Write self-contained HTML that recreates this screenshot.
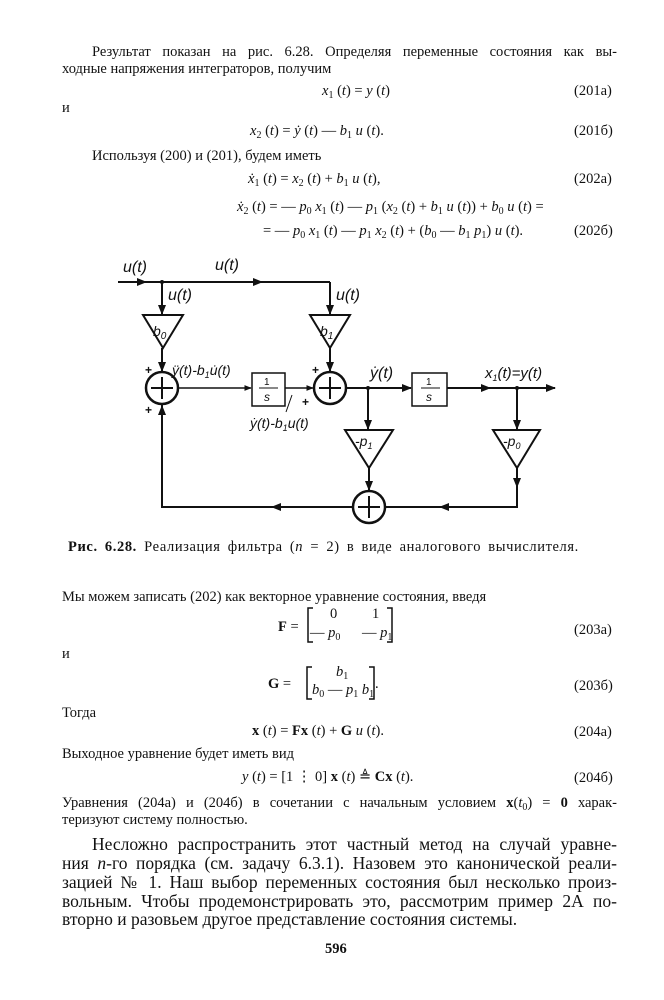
<!DOCTYPE html>
<html><head><meta charset="utf-8">
<style>
html,body{margin:0;padding:0;background:#fff;}
body{width:664px;height:1000px;position:relative;overflow:hidden;font-family:"Liberation Serif","DejaVu Serif",serif;color:#111;}
.l{position:absolute;font-size:14.5px;line-height:16px;white-space:nowrap;}
.j{text-align:justify;text-align-last:justify;white-space:normal;}
.b{position:absolute;font-size:17.5px;line-height:19px;}
i{font-style:italic;}
sub{font-size:10px;vertical-align:-3px;line-height:0;}
.n{position:absolute;font-size:14.5px;line-height:16px;}
</style></head><body>

<div class="l j" style="left:92px;top:44px;width:525px;">Результат показан на рис. 6.28. Определяя переменные состояния как вы-</div>
<div class="l" style="left:62px;top:61px;">ходные напряжения интеграторов, получим</div>
<div class="l" style="left:322px;top:83px;"><i>x</i><sub>1</sub> (<i>t</i>) = <i>y</i> (<i>t</i>)</div>
<div class="n" style="left:574px;top:83px;">(201а)</div>
<div class="l" style="left:62px;top:100px;">и</div>
<div class="l" style="left:250px;top:123px;"><i>x</i><sub>2</sub> (<i>t</i>) = <i>ẏ</i> (<i>t</i>) — <i>b</i><sub>1</sub> <i>u</i> (<i>t</i>).</div>
<div class="n" style="left:574px;top:123px;">(201б)</div>
<div class="l" style="left:92px;top:148px;">Используя (200) и (201), будем иметь</div>
<div class="l" style="left:248px;top:171px;"><i>ẋ</i><sub>1</sub> (<i>t</i>) = <i>x</i><sub>2</sub> (<i>t</i>) + <i>b</i><sub>1</sub> <i>u</i> (<i>t</i>),</div>
<div class="n" style="left:574px;top:171px;">(202а)</div>
<div class="l" style="left:237px;top:199px;"><i>ẋ</i><sub>2</sub> (<i>t</i>) = — <i>p</i><sub>0</sub> <i>x</i><sub>1</sub> (<i>t</i>) — <i>p</i><sub>1</sub> (<i>x</i><sub>2</sub> (<i>t</i>) + <i>b</i><sub>1</sub> <i>u</i> (<i>t</i>)) + <i>b</i><sub>0</sub> <i>u</i> (<i>t</i>) =</div>
<div class="l" style="left:263px;top:223px;">= — <i>p</i><sub>0</sub> <i>x</i><sub>1</sub> (<i>t</i>) — <i>p</i><sub>1</sub> <i>x</i><sub>2</sub> (<i>t</i>) + (<i>b</i><sub>0</sub> — <i>b</i><sub>1</sub> <i>p</i><sub>1</sub>) <i>u</i> (<i>t</i>).</div>
<div class="n" style="left:574px;top:223px;">(202б)</div>

<svg style="position:absolute;left:0;top:0" width="664" height="560" viewBox="0 0 664 560">
<defs><marker id="a" viewBox="0 0 10 10" refX="9" refY="5" markerWidth="5" markerHeight="5" orient="auto"><path d="M0,1 L10,5 L0,9 z" fill="#111"/></marker></defs>
<g stroke="#111" stroke-width="2" fill="none">
<line x1="118" y1="282" x2="330" y2="282"/>
<line x1="118" y1="282" x2="146" y2="282" marker-end="url(#a)"/>
<line x1="200" y1="282" x2="262" y2="282" marker-end="url(#a)"/>
<line x1="162" y1="282" x2="162" y2="314" marker-end="url(#a)"/>
<line x1="330" y1="282" x2="330" y2="314" marker-end="url(#a)"/>
<polygon points="143,315 183,315 163,348"/>
<polygon points="310,315 350,315 330,348"/>
<line x1="162" y1="348" x2="162" y2="371" marker-end="url(#a)"/>
<line x1="330" y1="348" x2="330" y2="371" marker-end="url(#a)"/>
<circle cx="162" cy="388" r="16" stroke-width="2.5"/>
<circle cx="330" cy="388" r="16" stroke-width="2.5"/>
<circle cx="369" cy="507" r="16" stroke-width="2.5"/>
<path d="M151,388h22M162,377v22M319,388h22M330,377v22M358,507h22M369,496v22"/>
<line x1="178" y1="388" x2="251" y2="388" marker-end="url(#a)" stroke-width="1.5"/>
<rect x="252" y="373" width="33" height="33" stroke-width="1.5"/>
<line x1="285" y1="388" x2="313" y2="388" marker-end="url(#a)" stroke-width="1.5"/>
<line x1="346" y1="388" x2="411" y2="388" marker-end="url(#a)"/>
<rect x="412" y="373" width="35" height="33" stroke-width="1.5"/>
<line x1="447" y1="388" x2="555" y2="388" marker-end="url(#a)"/>
<line x1="447" y1="388" x2="490" y2="388" marker-end="url(#a)"/>
<line x1="368" y1="388" x2="368" y2="429" marker-end="url(#a)"/>
<line x1="517" y1="388" x2="517" y2="429" marker-end="url(#a)"/>
<polygon points="345,430 393,430 369,468"/>
<polygon points="493,430 540,430 517,468"/>
<line x1="369" y1="468" x2="369" y2="490" marker-end="url(#a)"/>
<polyline points="517,468 517,507 385,507"/>
<line x1="517" y1="468" x2="517" y2="487" marker-end="url(#a)"/>
<line x1="460" y1="507" x2="440" y2="507" marker-end="url(#a)"/>
<polyline points="353,507 162,507 162,405"/>
<line x1="290" y1="507" x2="272" y2="507" marker-end="url(#a)"/>
<line x1="162" y1="430" x2="162" y2="406" marker-end="url(#a)"/>
<line x1="292" y1="395" x2="286" y2="412" stroke-width="1"/>
</g>
<circle cx="162" cy="282" r="2" fill="#111"/><circle cx="368" cy="388" r="2" fill="#111"/><circle cx="517" cy="388" r="2" fill="#111"/>
<g font-family="Liberation Sans, sans-serif" font-style="italic" font-size="16" fill="#111">
<text x="123" y="272">u(t)</text>
<text x="215" y="270">u(t)</text>
<text x="168" y="300">u(t)</text>
<text x="336" y="300">u(t)</text>
<text x="153" y="336" font-size="14">b<tspan font-size="10" dy="3">0</tspan></text>
<text x="320" y="336" font-size="14">b<tspan font-size="10" dy="3">1</tspan></text>
<text x="172" y="375" font-size="14">ÿ(t)-b<tspan font-size="9" dy="3">1</tspan><tspan dy="-3">u̇(t)</tspan></text>
<text x="250" y="428" font-size="14">ẏ(t)-b<tspan font-size="9" dy="3">1</tspan><tspan dy="-3">u(t)</tspan></text>
<text x="370" y="378">ẏ(t)</text>
<text x="485" y="378" font-size="15">x<tspan font-size="9" dy="3">1</tspan><tspan dy="-3">(t)=y(t)</tspan></text>
<text x="355" y="446" font-size="14">-p<tspan font-size="9" dy="3">1</tspan></text>
<text x="503" y="446" font-size="14">-p<tspan font-size="9" dy="3">0</tspan></text>
<text x="264" y="385" font-size="10" font-style="normal">1</text>
<text x="264" y="401" font-size="12">s</text>
<text x="426" y="385" font-size="10" font-style="normal">1</text>
<text x="426" y="401" font-size="12">s</text>
</g>
<line x1="259" y1="388" x2="278" y2="388" stroke="#111" stroke-width="1"/>
<line x1="421" y1="388" x2="440" y2="388" stroke="#111" stroke-width="1"/>
<g font-family="Liberation Sans, sans-serif" font-size="12" font-weight="bold" fill="#111">
<text x="145" y="374">+</text><text x="145" y="414">+</text>
<text x="312" y="374">+</text><text x="302" y="406">+</text>
</g>
</svg>

<div class="l" style="left:68px;top:539px;letter-spacing:0.6px;word-spacing:3px;"><b>Рис. 6.28.</b> Реализация фильтра (<i>n</i> = 2) в виде аналогового вычислителя.</div>

<div class="l" style="left:62px;top:589px;">Мы можем записать (202) как векторное уравнение состояния, введя</div>
<div class="l" style="left:278px;top:619px;"><b>F</b> =</div>
<svg style="position:absolute;left:300px;top:606px" width="100" height="40"><path d="M13,2h-5v34h5M87,2h5v34h-5" stroke="#111" stroke-width="1.5" fill="none"/></svg>
<div class="l" style="left:330px;top:606px;">0</div><div class="l" style="left:372px;top:606px;">1</div>
<div class="l" style="left:310px;top:625px;">— <i>p</i><sub>0</sub></div><div class="l" style="left:362px;top:625px;">— <i>p</i><sub>1</sub></div>
<div class="n" style="left:574px;top:622px;">(203а)</div>
<div class="l" style="left:62px;top:646px;">и</div>
<div class="l" style="left:268px;top:676px;"><b>G</b> =</div>
<svg style="position:absolute;left:300px;top:665px" width="80" height="38"><path d="M12,2h-5v32h5M69,2h5v32h-5" stroke="#111" stroke-width="1.5" fill="none"/></svg>
<div class="l" style="left:336px;top:664px;"><i>b</i><sub>1</sub></div>
<div class="l" style="left:312px;top:682px;"><i>b</i><sub>0</sub> — <i>p</i><sub>1</sub> <i>b</i><sub>1</sub></div>
<div class="l" style="left:375px;top:676px;">.</div>
<div class="n" style="left:574px;top:678px;">(203б)</div>
<div class="l" style="left:62px;top:705px;">Тогда</div>
<div class="l" style="left:252px;top:723px;"><b>x</b> (<i>t</i>) = <b>F</b><b>x</b> (<i>t</i>) + <b>G</b> <i>u</i> (<i>t</i>).</div>
<div class="n" style="left:574px;top:724px;">(204а)</div>
<div class="l" style="left:62px;top:746px;">Выходное уравнение будет иметь вид</div>
<div class="l" style="left:242px;top:769px;"><i>y</i> (<i>t</i>) = [1 ⋮ 0] <b>x</b> (<i>t</i>) ≜ <b>C</b><b>x</b> (<i>t</i>).</div>
<div class="n" style="left:574px;top:770px;">(204б)</div>
<div class="l j" style="left:62px;top:795px;width:555px;">Уравнения (204а) и (204б) в сочетании с начальным условием <b>x</b>(<i>t</i><sub>0</sub>) = <b>0</b> харак-</div>
<div class="l" style="left:62px;top:812px;">теризуют систему полностью.</div>

<div class="b j" style="left:92px;top:835px;width:525px;">Несложно распространить этот частный метод на случай уравне-</div>
<div class="b j" style="left:62px;top:854px;width:555px;">ния <i>n</i>-го порядка (см. задачу 6.3.1). Назовем это канонической реали-</div>
<div class="b j" style="left:62px;top:873px;width:555px;">зацией № 1. Наш выбор переменных состояния был несколько произ-</div>
<div class="b j" style="left:62px;top:892px;width:555px;">вольным. Чтобы продемонстрировать это, рассмотрим пример 2А по-</div>
<div class="b" style="left:62px;top:910px;white-space:nowrap;">вторно и разовьем другое представление состояния системы.</div>
<div class="l" style="left:325px;top:941px;font-weight:bold;">596</div>
</body></html>
